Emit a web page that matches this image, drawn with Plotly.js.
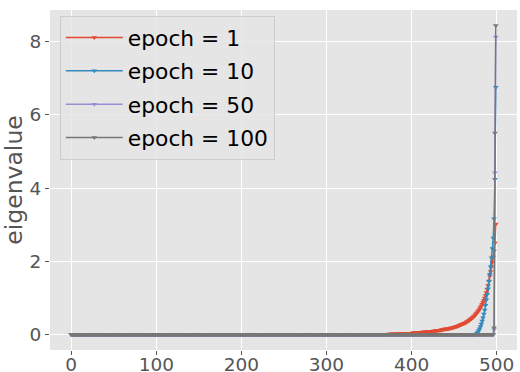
<!DOCTYPE html>
<html>
<head>
<meta charset="utf-8">
<script src="https://cdn.plot.ly/plotly-3.0.1.min.js"></script>
<style>html,body{margin:0;padding:0;background:#fff;}#chart{width:520px;height:372px;}</style>
</head>
<body>
<div id="chart"></div>
<script>
const seriesNames = ["epoch = 1", "epoch = 10", "epoch = 50", "epoch = 100"];
const seriesColors = ["#E24A33", "#348ABD", "#988ED5", "#777777"];
const nEigen = 500;
const epoch1Tail = [
  0.01,0.01,0.01,0.01,0.01,0.01,0.01,0.01,0.01,0.01,0.02,0.02,0.02,0.02,0.02,0.02,
  0.02,0.02,0.02,0.02,0.02,0.03,0.03,0.03,0.03,0.03,0.03,0.03,0.03,0.03,0.04,0.04,0.04,0.04,0.04,0.04,
  0.04,0.04,0.05,0.05,0.05,0.05,0.05,0.05,0.06,0.06,0.06,0.06,0.06,0.07,0.07,0.07,0.07,0.07,0.08,0.08,
  0.08,0.08,0.09,0.09,0.09,0.09,0.10,0.10,0.10,0.11,0.11,0.11,0.12,0.12,0.12,0.13,0.13,0.14,0.14,0.15,
  0.15,0.15,0.16,0.16,0.17,0.17,0.18,0.18,0.19,0.20,0.20,0.21,0.22,0.22,0.23,0.24,0.25,0.26,0.27,0.28,
  0.29,0.30,0.31,0.32,0.33,0.35,0.36,0.38,0.39,0.41,0.43,0.45,0.47,0.49,0.51,0.54,0.57,0.60,0.63,0.66,
  0.70,0.74,0.78,0.83,0.88,0.94,1.00,1.07,1.15,1.24,1.34,1.46,1.60,1.72,1.85,1.98,2.12,2.29,2.50,3.02
];
const epoch10Tail = [
  0.01,0.02,0.04,0.07,0.11,0.16,0.22,0.29,0.37,0.46,0.56,0.67,0.80,0.95,1.10,1.25,1.45,1.65,1.85,2.10,
  2.35,2.64,3.16,4.24,6.75
];
const epoch50Tail = [0.14, 4.42, 8.12];
const epoch100Tail = [0.19, 5.50, 8.44];
const tails = [epoch1Tail, epoch10Tail, epoch50Tail, epoch100Tail];

function fullSeries(tail) {
  const zeros = new Array(nEigen - tail.length).fill(0);
  return zeros.concat(tail);
}
const idx = Array.from({length: nEigen}, (_, i) => i);

const traces = tails.map((t, k) => ({
  x: idx,
  y: fullSeries(t),
  type: "scatter",
  mode: "lines+markers",
  name: seriesNames[k],
  legendgroup: "g" + k,
  line: {color: seriesColors[k], width: 1.5},
  marker: {symbol: "triangle-down", size: 5, color: seriesColors[k]}
}));

const axisCommon = {
  showgrid: true, gridcolor: "#ffffff", gridwidth: 1,
  zeroline: false, showline: false,
  ticks: "outside", ticklen: 4, tickwidth: 1, tickcolor: "#555555",
  tickfont: {family: "DejaVu Sans", size: 18.5, color: "#555555"}
};

const layout = {
  width: 520, height: 372,
  margin: {l: 50, r: 3, t: 10, b: 22},
  paper_bgcolor: "#ffffff",
  plot_bgcolor: "#E5E5E5",
  showlegend: true,
  xaxis: Object.assign({}, axisCommon, {range: [-24.95, 523.95], tickvals: [0,100,200,300,400,500], ticklabelstandoff: -6}),
  yaxis: Object.assign({}, axisCommon, {range: [-0.42, 8.86], tickvals: [0,2,4,6,8],
    title: {text: "eigenvalue", font: {family: "DejaVu Sans", size: 23.5, color: "#555555"}, standoff: 0}}),
  legend: {
    x: 0.021, y: 0.983, xanchor: "left", yanchor: "top",
    bgcolor: "rgba(229,229,229,0.8)", bordercolor: "#cccccc", borderwidth: 1,
    font: {family: "DejaVu Sans", size: 21.8, color: "#000000"},
    itemwidth: 57,
    tracegroupgap: 2
  }
};

Plotly.newPlot("chart", traces, layout, {displayModeBar: false, staticPlot: true});
</script>
</body>
</html>
